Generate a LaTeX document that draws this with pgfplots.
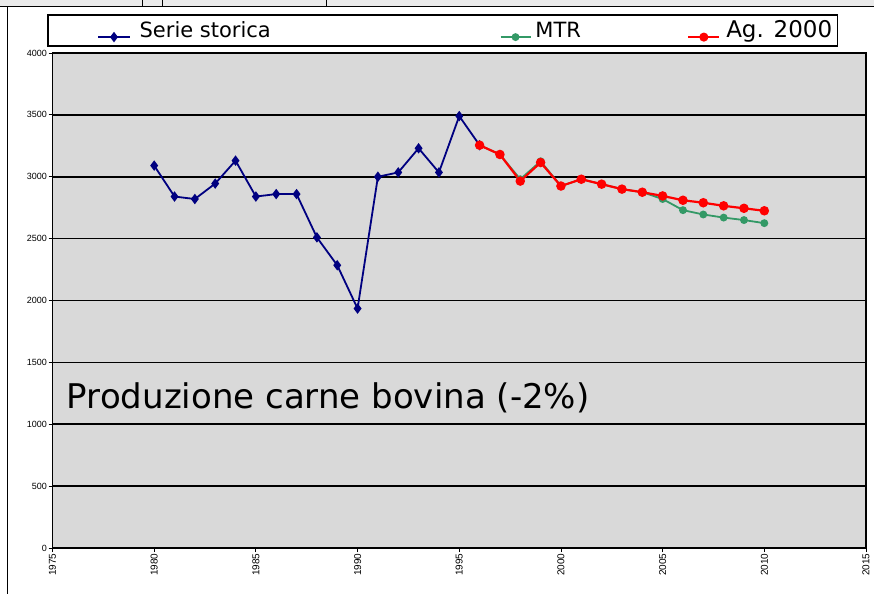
\documentclass[border=0pt]{standalone}
\usepackage{fontspec}
\setmainfont{DejaVu Sans}
\newfontfamily\tickfont{Liberation Sans}
\usepackage{pgfplots}
\pgfplotsset{compat=1.18}
\definecolor{plotbg}{HTML}{D9D9D9}
\definecolor{navyb}{HTML}{000080}
\definecolor{mtrgreen}{HTML}{339966}
\definecolor{agred}{HTML}{FF0000}
\definecolor{topgrey}{HTML}{EAEAEA}
\pgfplotsset{
  bluelegimg/.style={legend image code/.code={\node[draw=none,fill=none,inner sep=0pt,minimum size=0pt] at (-50.5pt,0pt) {};
    \draw[mark repeat=2,mark phase=2,##1,line width=1.8pt] plot coordinates {(0pt,0pt) (15.75pt,0pt) (31.5pt,0pt)};}},
  greenlegimg/.style={legend image code/.code={\draw[mark repeat=2,mark phase=2,##1,line width=1.8pt] plot coordinates {(0pt,0pt) (15pt,0pt) (30pt,0pt)};}},
  redlegimg/.style={legend image code/.code={\draw[mark repeat=2,mark phase=2,##1,line width=1.8pt] plot coordinates {(0pt,0pt) (15.5pt,0pt) (31pt,0pt)};}},
}
\begin{document}
\begin{tikzpicture}[x=1pt,y=1pt]
\path[use as bounding box] (0,0) rectangle (874,594);
\fill[white] (0,0) rectangle (874,594);
\fill[topgrey] (0,587.5) rectangle (874,594);
\draw[black,line width=1.4pt] (0,587.5) -- (874,587.5);
\draw[black,line width=0.8pt] (142,587.5) -- (142,594) (162,587.5) -- (162,594) (326,587.5) -- (326,594);
\draw[black,line width=1pt] (7,587.5) -- (7,0);
\begin{axis}[
  at={(52.5pt,46pt)}, anchor=south west,
  scale only axis, width=813.5pt, height=495pt,
  xmin=1975, xmax=2015, ymin=0, ymax=4000,
  xtick={1975,1980,...,2015}, ytick={0,500,...,4000},
  axis background/.style={fill=plotbg},
  axis line style={black,line width=1.6pt},
  ymajorgrids, major grid style={black,line width=1.7pt},
  tick align=outside, major tick length=4pt,
  tick style={black,line width=0.8pt},
  xtick pos=bottom, ytick pos=left,
  /pgf/number format/assume math mode=true,
  /pgf/number format/1000 sep={},
  yticklabel style={font=\tickfont\fontsize{9}{9}\selectfont, inner sep=1.5pt},
  xticklabel style={font=\tickfont\fontsize{10}{10}\selectfont, rotate=90, anchor=east, inner sep=1.5pt},
  clip=false,
  legend columns=3,
  legend style={at={(-0.00676,1.0455)}, anchor=west, draw=black, line width=1.5pt, fill=white,
    inner xsep=0pt, inner ysep=5pt, column sep=0pt,
    nodes={inner sep=0pt, anchor=base}},
]
\addplot[navyb, line width=1.8pt, mark=diamond*, mark size=3.8pt, mark options={solid,fill=navyb}, bluelegimg]
coordinates {
(1980,3090) (1981,2840) (1982,2820) (1983,2945) (1984,3130) (1985,2840)
(1986,2860) (1987,2860) (1988,2510) (1989,2285) (1990,1935) (1991,3000)
(1992,3035) (1993,3230) (1994,3035) (1995,3490) (1996,3255)};
\addlegendentry{\fontsize{21}{21}\selectfont\makebox[369pt][l]{\hspace{9pt}Serie storica}}
\addplot[mtrgreen, line width=1.8pt, mark=*, mark size=3pt, mark options={solid,fill=mtrgreen}, greenlegimg]
coordinates {
(1996,3255) (1997,3180) (1998,2980) (1999,3125) (2000,2925) (2001,2980)
(2002,2940) (2003,2900) (2004,2875) (2005,2820) (2006,2730) (2007,2695)
(2008,2670) (2009,2650) (2010,2625)};
\addlegendentry{\fontsize{21}{21}\selectfont\makebox[156pt][l]{\hspace{4pt}MTR}}
\addplot[agred, line width=2.2pt, mark=*, mark size=3.6pt, mark options={solid,fill=agred}, redlegimg]
coordinates {
(1996,3255) (1997,3180) (1998,2965) (1999,3115) (2000,2925) (2001,2980)
(2002,2940) (2003,2900) (2004,2875) (2005,2845) (2006,2810) (2007,2790)
(2008,2765) (2009,2745) (2010,2725)};
\addlegendentry{\fontsize{23}{23}\selectfont\makebox[117pt][l]{\hspace{6pt}Ag. 2000}}
\node[anchor=base west, inner sep=0pt, font=\fontsize{34}{34}\selectfont] at (axis cs:1975.7,1128) {Produzione carne bovina (-2\%)};
\end{axis}
\end{tikzpicture}
\end{document}
